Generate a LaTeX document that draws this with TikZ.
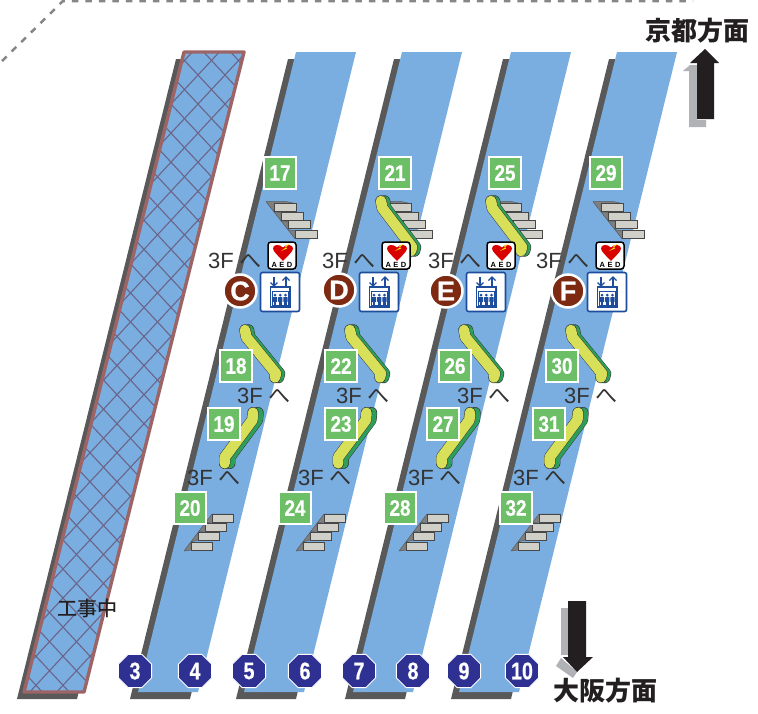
\documentclass[tikz,border=0pt]{standalone}
\usepackage{fontspec}
\setmainfont{Liberation Sans}
\newfontfamily\jpfont{Noto Sans CJK JP}
\newfontfamily\jpmed[FakeBold=0.35]{Noto Sans CJK JP}
\newfontfamily\heavyfont[FakeBold=0.7]{Liberation Sans Bold}
\usetikzlibrary{shapes.geometric}
\definecolor{platblue}{HTML}{7AAEE0}
\definecolor{shadowgray}{HTML}{595959}
\definecolor{brownedge}{HTML}{9C6464}
\definecolor{latt}{HTML}{6B6488}
\definecolor{sqgreen}{HTML}{6CBF66}
\definecolor{escyellow}{HTML}{D8E05A}
\definecolor{escgreen}{HTML}{2E9E5B}
\definecolor{stepgray}{HTML}{D0CFC8}
\definecolor{stepdark}{HTML}{7F7F7F}
\definecolor{circbrown}{HTML}{7E2A12}
\definecolor{elevblue}{HTML}{1E4D9E}
\definecolor{octblue}{HTML}{2E3192}
\definecolor{arrowgray}{HTML}{B0B2B5}
\definecolor{arrowblack}{HTML}{231F20}
\definecolor{txtdark}{HTML}{333333}
\newcommand{\sqnum}[1]{\scalebox{0.84}[1]{\heavyfont\fontsize{22.5}{22.5}\selectfont #1}}
\newcommand{\octnum}[1]{\scalebox{0.82}[1]{\heavyfont\fontsize{24}{24}\selectfont #1}}
\tikzset{
  x=1pt,y=-1pt,
  platform/.style={fill=platblue,draw=none},
  platshadow/.style={fill=shadowgray,draw=none},
  numsq/.style={rectangle,fill=sqgreen,draw=white,line width=2.2pt,minimum size=32pt,inner sep=0pt,text=white},
  octa/.style={regular polygon,regular polygon sides=8,fill=octblue,draw=white,line width=1pt,minimum size=36pt,inner sep=0pt,text=white},
  gatec/.style={circle,fill=circbrown,draw=white,line width=2.5pt,minimum size=33pt,inner sep=0pt,text=white,font=\heavyfont\fontsize{27}{27}\selectfont},
  floorlab/.style={anchor=base west,inner sep=0pt,text=txtdark,font=\fontsize{22}{22}\selectfont},
  head/.style={inner sep=0pt,text=arrowblack,font=\jpfont\fontsize{26}{26}\selectfont\bfseries},
  stepbox/.style={fill=stepgray,draw=shadowgray!80!black,line width=0.8pt},
  stepside/.style={fill=stepdark,draw=shadowgray,line width=0.5pt,line join=round},
  escedge/.style={draw=black!80,line width=11.4pt,line cap=round,line join=round},
  escgr/.style={draw=escgreen,line width=10.5pt,line cap=round,line join=round},
  escye/.style={draw=escyellow,line width=10.5pt,line cap=round,line join=round},
  stairsdown/.pic={
    \path[stepside] (0,0)--(21,0)--(30,2)--(30,4)--(8,2)--(8,10)--(15,11)--(15,19)--(22,20)--(22,28)--(29,29)--(29,37)--cycle;
    \foreach \i/\yy in {0/2,1/10.3,2/19,3/29}{\path[stepbox] ({8+7*\i},\yy) rectangle ++(22,8);}
  },
  stairsup/.pic={
    \path[stepside] (0,0)--(28,-37)--(49,-37)--(28,-29)--(21,-28)--(21,-20)--(14,-19)--(14,-11)--(7,-9)--(7,-1)--cycle;
    \foreach \i/\yy in {0/-9,1/-19,2/-28,3/-37}{\path[stepbox] ({7+7*\i},\yy) rectangle ++(21,8);}
  },
  escdown/.pic={
    \foreach \sx/\st in {3.5/escedge,3.5/escgr,0/escedge,0/escye}{
      \draw[\st] (\sx,0)--(\sx+1.3,7)--(\sx+31,43.5)--(\sx+30,47.5);}
  },
  escdownlong/.pic={
    \foreach \sx/\st in {3.5/escedge,3.5/escgr,0/escedge,0/escye}{
      \draw[\st] (\sx,0)--(\sx+1.3,7)--(\sx+31,46)--(\sx+30,50);}
  },
  escup/.pic={
    \foreach \sx/\st in {5/escedge,5/escgr,0/escedge,0/escye}{
      \draw[\st] (\sx,0)--(\sx-0.6,7.3)--(\sx-28.3,44.6)--(\sx-28.3,50.6);}
  },
  aedicon/.pic={
    \path[fill=white,draw=black,line width=1.5pt,rounded corners=3pt] (-14,-13.5) rectangle (14,13.5);
    \path[fill=red!85!black] (1,5.5) .. controls (-4,0) and (-9,-4) .. (-9,-7) .. controls (-9,-11) and (-3,-12) .. (1,-8) .. controls (4,-12) and (11,-11) .. (11,-7) .. controls (11,-4) and (6,0) .. (1,5.5);
    \path[fill=yellow,draw=none] (8,-12)--(3,-9.5)--(4,-8)--(-1,-4.5)--(5,-7)--(4,-8.5)--cycle;
    \node[inner sep=0pt,font=\fontsize{7.5}{7.5}\selectfont\bfseries] (t) at (0,9.6) {A\,\,E\,\,D};
  },
  elevicon/.pic={
    \path[fill=white,draw=elevblue,line width=1.6pt,rounded corners=2pt] (-19.5,-19.5) rectangle (19.5,19.5);
    \foreach \ax/\aa/\ab/\sg in {-6/-15/-6/-1,6/-6/-15/1}{
      \draw[elevblue,line width=1.1pt] (\ax,\aa)--(\ax,\ab);
      \draw[elevblue,line width=1.1pt] (\ax-3.5,{\ab-\sg*(-3.5)})--(\ax,\ab)--(\ax+3.5,{\ab-\sg*(-3.5)});
    }
    \path[fill=white,draw=elevblue,line width=1.5pt] (-9.5,-5) rectangle (10,15);
    \path[fill=white,draw=elevblue,line width=0.6pt] (-8,-1) rectangle (8.5,13.5);
    \foreach \px in {-5,0.25,5.5}{
      \path[fill=elevblue] (\px,3) circle (1.5pt);
      \path[fill=elevblue,rounded corners=0.5pt] (\px-2.2,5) rectangle (\px+2.2,10);
      \path[fill=elevblue] (\px-1.4,10) rectangle (\px+1.4,13);
    }
  },
}
\begin{document}
\begin{tikzpicture}
\useasboundingbox[fill=white] (0,0) rectangle (758,713);
% dashed border
\draw[draw=gray!95,line width=2.5pt,dash pattern=on 6.5pt off 7pt] (2,61)--(63,1)--(693,1);
% hatched platform
\path[platshadow] (176,59)--(236,59)--(77,699)--(17,699)--cycle;
\path[platform] (184,52)--(244,52)--(84,692)--(24,692)--cycle;
\begin{scope}
  \clip (184,52)--(244,52)--(84,692)--(24,692)--cycle;
  \foreach \k in {-40,...,25}{
    \draw[latt,line width=1.1pt] ({198+27*\k-32.5},40)--({198+27*\k+590},710);
    \draw[latt,line width=1.1pt] ({198+27*\k+32.5},40)--({198+27*\k-590},710);
  }
\end{scope}
\path[draw=brownedge,line width=3.4pt,line join=round] (184,52)--(244,52)--(84,692)--(24,692)--cycle;
% platforms
\foreach \tl in {296,402,511,617}{
  \path[platshadow] (\tl-8,59)--(\tl+52,59)--(\tl-106,699)--(\tl-166,699)--cycle;
  \path[platform] (\tl,52)--(\tl+60,52)--(\tl-98,692)--(\tl-158,692)--cycle;
}
% stairs
\foreach \sx in {266,381,491,593}{\pic at (\sx,201.7) {stairsdown};}
\foreach \sx in {184,296,399,511}{\pic at (\sx,551) {stairsup};}
% escalators
\foreach \sx in {381,491}{\pic at (\sx,201) {escdownlong};}
\foreach \sx in {245,350,464,571}{\pic at (\sx,330) {escdown};}
\foreach \sx in {253,366.5,470,578}{\pic at (\sx,412.7) {escup};}
% floor labels
\foreach \n/\lx/\by in {a1/208/268,a2/322/268,a3/428/268,a4/536/268,b1/237/403,b2/336/403,b3/457/403,b4/564/403,c1/187/485,c2/298/485,c3/408/485,c4/513/485}{
  \node[floorlab] (fl\n) at (\lx,\by) {3F\hspace{6pt}{\jpfont へ}};
}
% AED and elevator icons
\foreach \n/\ax/\ex in {C/282/280,D/396/379,E/501/486,F/610/607}{
  \pic (aed\n) at (\ax,255.5) {aedicon};
  \pic (elev\n) at (\ex,292) {elevicon};
}
% gate circles
\node[gatec] (gC) at (240,291) {C};
\node[gatec] (gD) at (339,290) {D};
\node[gatec] (gE) at (446,291) {E};
\node[gatec] (gF) at (568,291) {F};
% number squares
\foreach \v/\qx/\qy in {17/280/173,21/395/173,25/505/173,29/606/173,18/236/366,22/341/366,26/455/366,30/562/366,19/224/424,23/341/424,27/443/424,31/549/424,20/190/508,24/295/508,28/400/508,32/516/508}{
  \node[numsq] (sq\v) at (\qx,\qy) {\sqnum{\v}};
}
% octagons
\foreach \v/\qx in {3/135,4/195,5/249,6/305,7/359,8/413,9/464,10/522}{
  \node[octa] (oc\v) at (\qx,671) {\octnum{\v}};
}
% arrows
\path[fill=arrowgray] (683,71)--(690,65)--(697,65)--(697,120)--(706,120)--(706,127)--(689,127)--(689,71)--cycle;
\path[fill=arrowblack] (705,49)--(719,63)--(714,63)--(714,119)--(697,119)--(697,63)--(690,63)--cycle;
\path[fill=arrowgray] (561,608) rectangle (568,655);
\path[fill=arrowgray] (561,658)--(556,666)--(573,678)--(577,672)--cycle;
\path[fill=arrowblack] (568,601)--(586,601)--(586,657)--(593,657)--(577,672)--(563,657)--(568,657)--cycle;
% texts
\node[head] (kyoto) at (697,31) {京都方面};
\node[head] (osaka) at (605,691) {大阪方面};
\node[inner sep=0pt,text=arrowblack,font=\jpmed\fontsize{20}{20}\selectfont] (kouji) at (87,608) {工事中};
\end{tikzpicture}
\end{document}
